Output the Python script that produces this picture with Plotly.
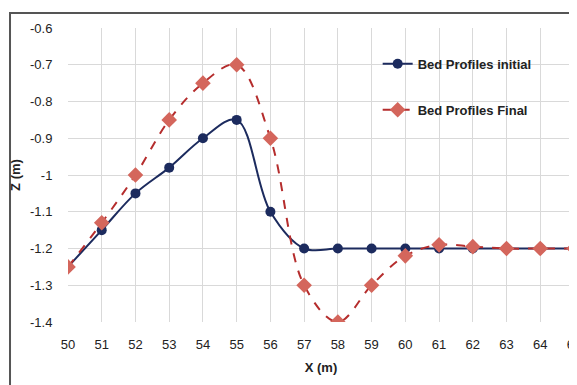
import plotly.graph_objects as go

x_m = [50, 51, 52, 53, 54, 55, 56, 57, 58, 59, 60, 61, 62, 63, 64, 65]
z_initial = [-1.25, -1.15, -1.05, -0.98, -0.90, -0.85, -1.10, -1.20, -1.20, -1.20, -1.20, -1.20, -1.20, -1.20, -1.20, -1.20]
z_final = [-1.25, -1.13, -1.00, -0.85, -0.75, -0.70, -0.90, -1.30, -1.40, -1.30, -1.22, -1.19, -1.195, -1.20, -1.20, -1.20]
y_ticks = [-0.6, -0.7, -0.8, -0.9, -1.0, -1.1, -1.2, -1.3, -1.4]
y_labels = ["-0.6", "-0.7", "-0.8", "-0.9", "-1", "-1.1", "-1.2", "-1.3", "-1.4"]

FONT = "Liberation Sans Narrow, Arial Narrow, Liberation Sans, Arial, sans-serif"

fig = go.Figure()
fig.add_trace(go.Scatter(
    x=x_m, y=z_initial, name="<b>Bed Profiles initial</b>", mode="lines+markers",
    line=dict(color="#1c2b5e", width=2, shape="spline", smoothing=1),
    marker=dict(symbol="circle", size=10, color="#1c2b5e"),
    legendgroup="a"))
fig.add_trace(go.Scatter(
    x=x_m, y=z_final, name="<b>Bed Profiles Final</b>", mode="lines+markers",
    line=dict(color="#b52d2d", width=2, dash="dash", shape="spline", smoothing=1),
    marker=dict(symbol="diamond", size=12, color="#d4665c"),
    legendgroup="b"))

fig.update_layout(
    width=569, height=377,
    margin=dict(l=60, r=3, t=20, b=63),
    paper_bgcolor="white", plot_bgcolor="white",
    font=dict(family=FONT, size=13, color="#222222"),
    showlegend=True,
    legend=dict(x=0.612, y=0.929, xanchor="left", yanchor="top",
                bgcolor="rgba(255,255,255,0)", font=dict(size=13, color="#222222"),
                traceorder="grouped", tracegroupgap=26),
    xaxis=dict(range=[50, 65], tickvals=x_m, showgrid=True, gridcolor="#d9d9d9",
               gridwidth=1, zeroline=False, showline=False, automargin=False,
               ticks="outside", ticklen=10, tickcolor="rgba(0,0,0,0)",
               ticklabeloverflow="allow",
               tickfont=dict(size=13), title=dict(text="<b>X (m)</b>", font=dict(size=13), standoff=12)),
    yaxis=dict(range=[-1.4, -0.6], tickvals=y_ticks, ticktext=y_labels, showgrid=True,
               gridcolor="#d9d9d9", gridwidth=1, zeroline=False, showline=False, automargin=False,
               ticks="outside", ticklen=12, tickcolor="rgba(0,0,0,0)",
               tickfont=dict(size=13), title=dict(text="<b>Z (m)</b>", font=dict(size=13), standoff=6)),
)

fig.add_shape(type="rect", xref="paper", yref="paper", x0=-0.1146, y0=-0.5, x1=1.2, y1=1.051,
              line=dict(color="#555555", width=2), fillcolor="rgba(0,0,0,0)", layer="below")

fig.write_html("out.html")
